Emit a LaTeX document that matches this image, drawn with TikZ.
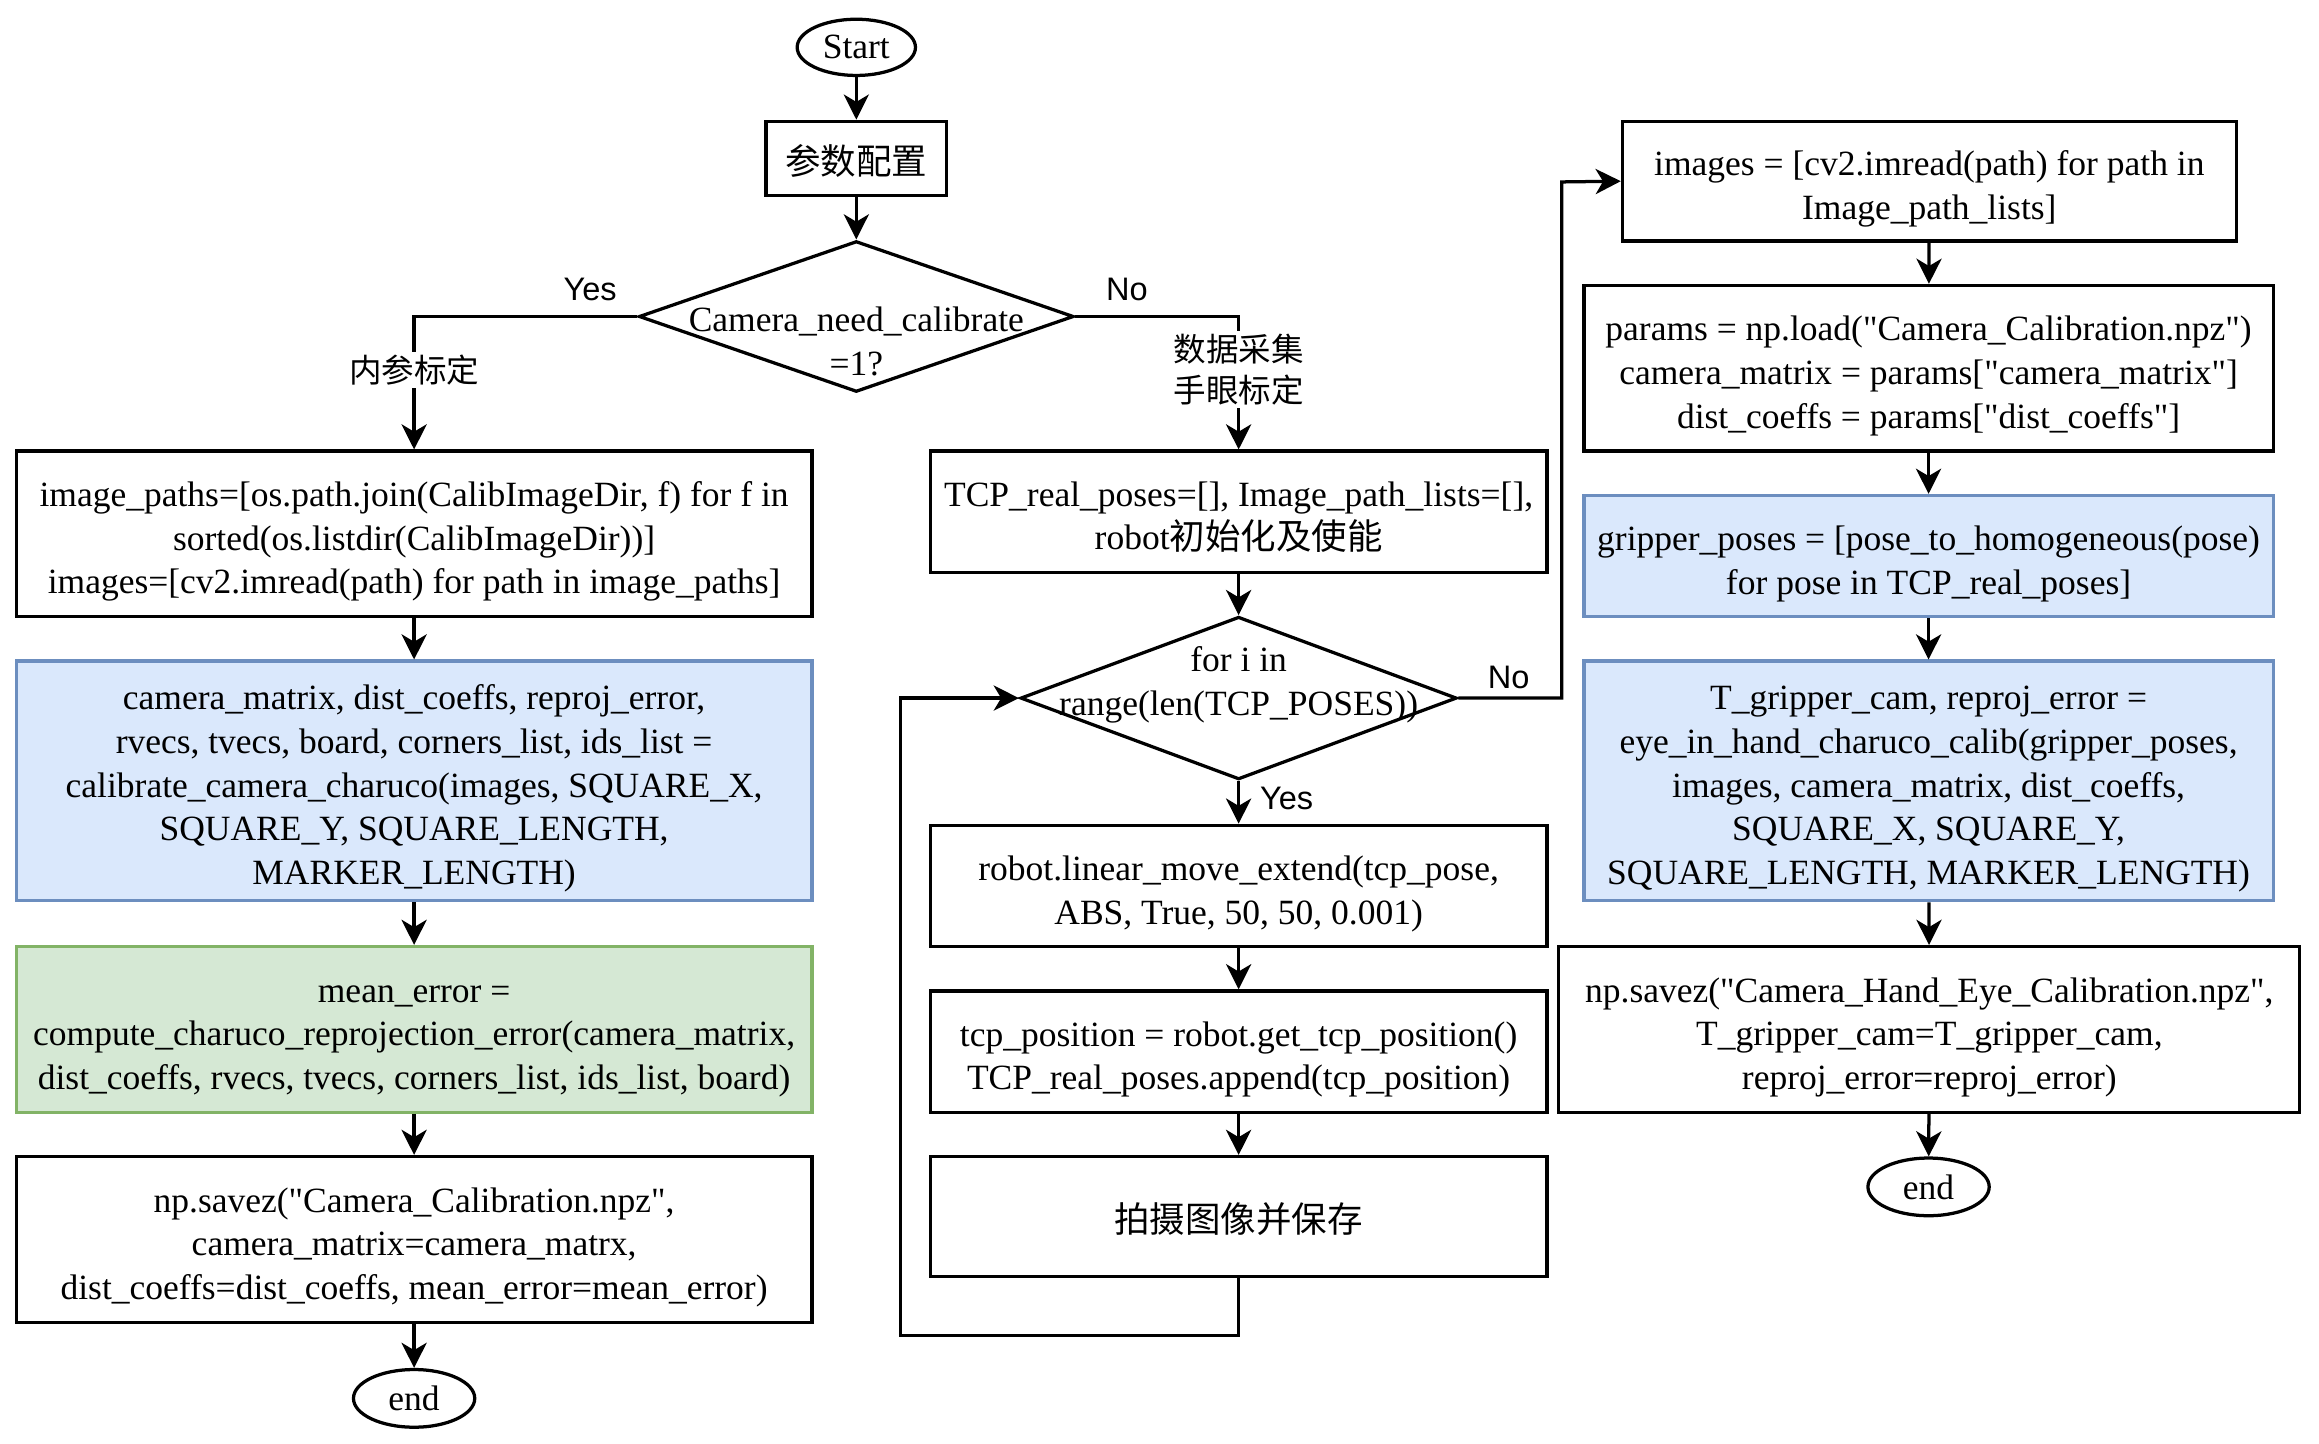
\documentclass[tikz,border=0pt]{standalone}
\usepackage{fontspec}
\setmainfont{Liberation Serif}[Ligatures=TeXOff]
\newfontfamily\cjk{Noto Sans CJK SC}
\newfontfamily\lblsans{Liberation Sans}
\usetikzlibrary{shapes.geometric,arrows.meta}
\newcommand\mytop{\rule{0pt}{14.4pt}}
\newcommand\mybot{\rule[-3.35pt]{0pt}{3.35pt}}
\begin{document}
\begin{tikzpicture}[x=0.5pt,y=-0.5pt,
  font=\fontsize{12}{14.75}\selectfont,
  box/.style={draw,line width=1.1pt,rectangle,align=center,inner sep=0pt},
  bluebox/.style={box,fill=blueF,draw=blueD},
  greenbox/.style={box,fill=greenF,draw=greenD},
  term/.style={draw,line width=1.1pt,ellipse,inner sep=0pt},
  dia/.style={draw,line width=1.1pt,diamond,inner sep=0pt},
  arr/.style={line width=1.1pt,-{Stealth[length=8.5pt,width=8.5pt,inset=2.5pt]}},
  yn/.style={font=\lblsans\fontsize{11}{13}\selectfont,inner sep=0pt},
  edgelbl/.style={fill=white,align=center,inner sep=1pt,font=\cjk\fontsize{11}{14}\selectfont},
]
\definecolor{blueF}{HTML}{DAE8FC}
\definecolor{blueD}{HTML}{6C8EBF}
\definecolor{greenF}{HTML}{D5E8D4}
\definecolor{greenD}{HTML}{82B366}
\useasboundingbox (0,0) rectangle (1568,976);

% top
\node[term,minimum width=40pt,minimum height=19pt] (start) at (579,32) {Start};
\node[box,minimum width=61pt,minimum height=25pt] (cfg) at (579,107) {\mytop{\cjk 参数配置}\mybot};
\node[dia,minimum width=147pt,minimum height=51pt] (d1) at (579,214) {};
\node[align=center,inner sep=0pt] (d1t) at (579,231) {Camera\_need\_calibrate\\=1?};
\node[yn] (yes1) at (399,196) {Yes};
\node[yn] (no1) at (762,196) {No};

% left column
\node[box,minimum width=269pt,minimum height=56pt] (img) at (280,361)
  {\mytop image\_paths=[os.path.join(CalibImageDir, f) for f in\\sorted(os.listdir(CalibImageDir))]\\images=[cv2.imread(path) for path in image\_paths]\mybot};
\node[bluebox,minimum width=269pt,minimum height=81pt] (cal) at (280,528)
  {\mytop camera\_matrix, dist\_coeffs, reproj\_error,\\rvecs, tvecs, board, corners\_list, ids\_list =\\calibrate\_camera\_charuco(images, SQUARE\_X,\\SQUARE\_Y, SQUARE\_LENGTH,\\MARKER\_LENGTH)\mybot};
\node[greenbox,minimum width=269pt,minimum height=56pt] (err) at (280,696)
  {\mytop mean\_error =\\compute\_charuco\_reprojection\_error(camera\_matrix,\\dist\_coeffs, rvecs, tvecs, corners\_list, ids\_list, board)\mybot};
\node[box,minimum width=269pt,minimum height=56pt] (save1) at (280,838)
  {\mytop np.savez("Camera\_Calibration.npz",\\camera\_matrix=camera\_matrx,\\dist\_coeffs=dist\_coeffs, mean\_error=mean\_error)\mybot};
\node[term,minimum width=41pt,minimum height=19.5pt] (end1) at (280,945.5) {end};

% middle column
\node[box,minimum width=208.5pt,minimum height=41pt] (tcp) at (837.5,346)
  {\mytop TCP\_real\_poses=[], Image\_path\_lists=[],\\robot{\cjk 初始化及使能}\mybot};
\node[dia,minimum width=147.5pt,minimum height=55pt] (d2) at (837.5,472) {};
\node[align=center,inner sep=0pt] (d2t) at (837.5,463) {for i in\\range(len(TCP\_POSES))};
\node[yn] (no2) at (1020,458) {No};
\node[yn] (yes2) at (870,540) {Yes};
\node[box,minimum width=208.5pt,minimum height=41pt] (move) at (837.5,599)
  {\mytop robot.linear\_move\_extend(tcp\_pose,\\ABS, True, 50, 50, 0.001)\mybot};
\node[box,minimum width=208.5pt,minimum height=41pt] (pos) at (837.5,711)
  {\mytop tcp\_position = robot.get\_tcp\_position()\\TCP\_real\_poses.append(tcp\_position)\mybot};
\node[box,minimum width=208.5pt,minimum height=40.5pt] (shoot) at (837.5,822.5)
  {\mytop{\cjk 拍摄图像并保存}\mybot};

% right column
\node[box,minimum width=207.5pt,minimum height=40.5pt] (imgs) at (1304.5,122.5)
  {\mytop images = [cv2.imread(path) for path in\\Image\_path\_lists]\mybot};
\node[box,minimum width=233pt,minimum height=56pt] (params) at (1304,249)
  {\mytop params = np.load("Camera\_Calibration.npz")\\camera\_matrix = params["camera\_matrix"]\\dist\_coeffs = params["dist\_coeffs"]\mybot};
\node[bluebox,minimum width=233pt,minimum height=41pt] (grip) at (1304,376)
  {\mytop gripper\_poses = [pose\_to\_homogeneous(pose)\\for pose in TCP\_real\_poses]\mybot};
\node[bluebox,minimum width=233pt,minimum height=81pt] (tgc) at (1304,528)
  {\mytop T\_gripper\_cam, reproj\_error =\\eye\_in\_hand\_charuco\_calib(gripper\_poses,\\images, camera\_matrix, dist\_coeffs,\\SQUARE\_X, SQUARE\_Y,\\SQUARE\_LENGTH, MARKER\_LENGTH)\mybot};
\node[box,minimum width=250.5pt,minimum height=56pt] (save2) at (1304.5,696)
  {\mytop np.savez("Camera\_Hand\_Eye\_Calibration.npz",\\T\_gripper\_cam=T\_gripper\_cam,\\reproj\_error=reproj\_error)\mybot};
\node[term,minimum width=41pt,minimum height=19.5pt] (end2) at (1304,802.5) {end};

\coordinate (lp) at (609,903);
\coordinate (nc) at (1056,123);

% connectors
\draw[arr] (start) -- (cfg);
\draw[arr] (cfg) -- (d1.north);
\draw[arr] (d1.west) -| (img.north) node[edgelbl,pos=0.7] (lblL) {内参标定};
\draw[arr] (d1.east) -| (tcp.north) node[edgelbl,pos=0.7] (lblR) {数据采集\\手眼标定};
\draw[arr] (img) -- (cal);
\draw[arr] (cal) -- (err);
\draw[arr] (err) -- (save1);
\draw[arr] (save1) -- (end1);
\draw[arr] (tcp) -- (d2.north);
\draw[arr] (d2.south) -- (move);
\draw[arr] (move) -- (pos);
\draw[arr] (pos) -- (shoot);
\draw[arr] (shoot.south) |- (lp) |- (d2.west);
\draw[arr] (d2.east) -| (nc) -- (imgs.west);
\draw[arr] (imgs) -- (params);
\draw[arr] (params) -- (grip);
\draw[arr] (grip) -- (tgc);
\draw[arr] (tgc) -- (save2);
\draw[arr] (save2) -- (end2);
\end{tikzpicture}
\end{document}
